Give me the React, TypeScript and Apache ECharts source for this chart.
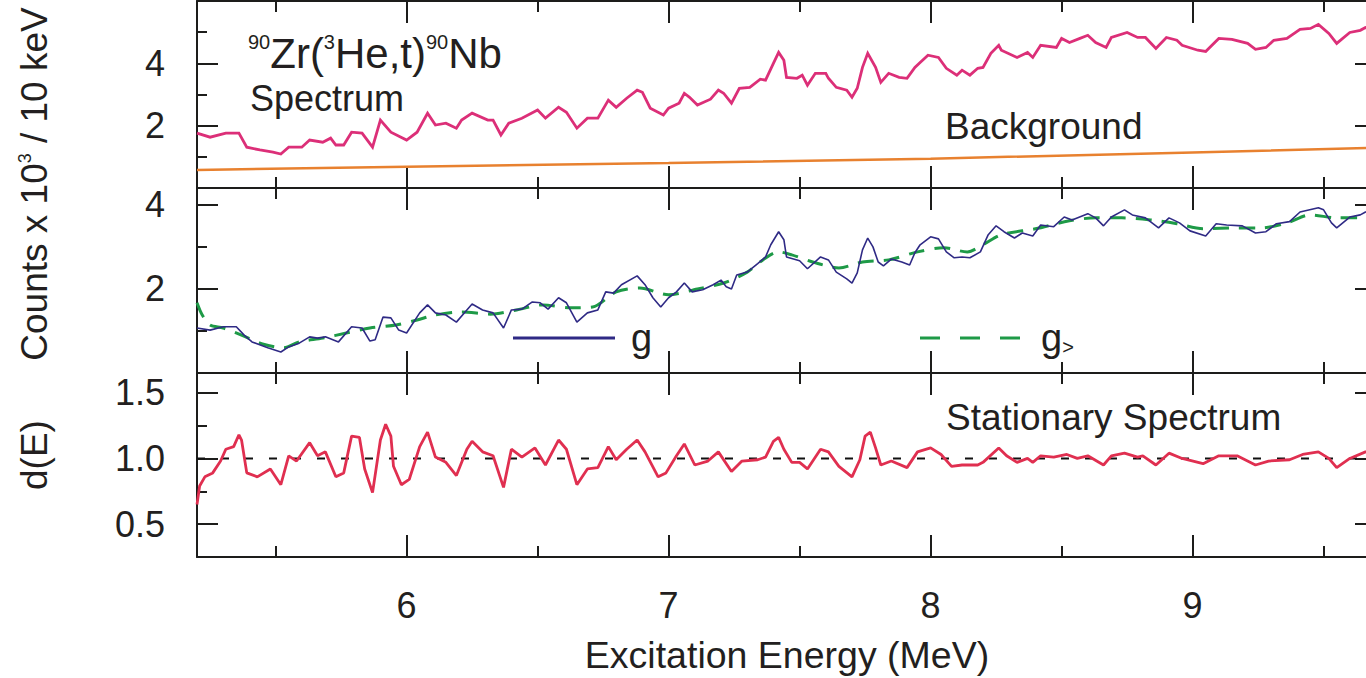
import React, { useEffect, useRef } from "react";
import * as echarts from "echarts";

// ---------- data ----------
const xMin = 5.2;
const xMax = 9.7;
const xMajorTicks = [6, 7, 8, 9];
const xMinorTicks = [5.5, 6.5, 7.5, 8.5, 9.5];

const spectrumRange = [0, 6];
const spectrumMajor = [2, 4];
const spectrumMinor = [1, 3, 5];
const gRange = [0, 4.4];
const gMajor = [2, 4];
const gMinor = [1, 3];
const dRange = [0.25, 1.65];
const dMajor = [0.5, 1.0, 1.5];
const dMinor = [0.75, 1.25];

// Excitation energy (MeV), counts x 10^3 / 10 keV
const spectrum: [number, number][] = [
  [5.2, 1.76], [5.25, 1.63], [5.31, 1.76], [5.36, 1.76], [5.39, 1.31], [5.44, 1.22], [5.49, 1.15], [5.52, 1.09],
  [5.55, 1.31], [5.6, 1.31], [5.63, 1.54], [5.68, 1.47], [5.71, 1.6], [5.73, 1.38], [5.76, 1.38], [5.79, 1.79],
  [5.83, 1.76], [5.87, 1.31], [5.9, 2.18], [5.94, 1.79], [6.0, 1.54], [6.04, 1.79], [6.08, 2.4], [6.11, 2.02],
  [6.15, 2.08], [6.19, 1.92], [6.21, 2.18], [6.25, 2.4], [6.31, 2.18], [6.33, 2.18], [6.36, 1.7], [6.39, 2.08],
  [6.44, 2.24], [6.5, 2.5], [6.53, 2.24], [6.58, 2.59], [6.61, 2.43], [6.65, 1.92], [6.69, 2.24], [6.73, 2.24],
  [6.77, 2.82], [6.8, 2.59], [6.84, 2.88], [6.88, 3.14], [6.9, 3.07], [6.93, 2.56], [6.98, 2.34], [7.0, 2.56],
  [7.04, 2.72], [7.06, 3.04], [7.08, 2.91], [7.11, 2.66], [7.16, 2.85], [7.19, 3.14], [7.21, 3.04], [7.24, 2.72],
  [7.27, 3.2], [7.31, 3.23], [7.35, 3.49], [7.37, 3.46], [7.4, 4.0], [7.42, 4.35], [7.44, 4.1], [7.45, 3.55],
  [7.49, 3.52], [7.51, 3.62], [7.53, 3.3], [7.56, 3.68], [7.6, 3.68], [7.61, 3.52], [7.64, 3.23], [7.68, 3.14],
  [7.7, 2.91], [7.72, 3.2], [7.74, 3.87], [7.76, 4.32], [7.79, 3.87], [7.81, 3.39], [7.84, 3.68], [7.88, 3.55],
  [7.91, 3.52], [7.94, 3.87], [7.96, 4.03], [7.99, 4.26], [8.03, 4.19], [8.06, 3.84], [8.1, 3.62], [8.12, 3.78],
  [8.15, 3.62], [8.18, 3.84], [8.2, 3.87], [8.23, 4.32], [8.26, 4.58], [8.27, 4.42], [8.33, 4.19], [8.37, 4.35],
  [8.39, 4.19], [8.42, 4.58], [8.48, 4.51], [8.5, 4.8], [8.53, 4.67], [8.57, 4.8], [8.6, 4.9], [8.63, 4.67],
  [8.67, 4.51], [8.69, 4.83], [8.75, 4.99], [8.79, 4.83], [8.82, 4.83], [8.86, 4.48], [8.9, 4.83], [8.94, 4.74],
  [8.96, 4.58], [9.02, 4.42], [9.05, 4.38], [9.1, 4.8], [9.15, 4.77], [9.21, 4.64], [9.24, 4.45], [9.28, 4.51],
  [9.31, 4.74], [9.36, 4.8], [9.41, 5.09], [9.45, 5.12], [9.48, 5.25], [9.52, 4.96], [9.55, 4.64], [9.6, 4.99],
  [9.64, 5.06], [9.66, 5.15], [9.7, 5.1],
];

const background: [number, number][] = [
  [5.2, 0.58], [6.0, 0.68], [7.0, 0.8], [8.0, 0.94], [9.0, 1.14], [9.7, 1.29],
];

const gSpectrum: [number, number][] = [
  [5.2, 1.07], [5.25, 1.02], [5.3, 1.1], [5.35, 1.1], [5.38, 0.9], [5.41, 0.74], [5.47, 0.6], [5.52, 0.5],
  [5.55, 0.62], [5.59, 0.71], [5.63, 0.86], [5.66, 0.83], [5.69, 0.86], [5.74, 0.74], [5.79, 1.1], [5.83, 1.07],
  [5.86, 0.76], [5.88, 0.79], [5.91, 1.33], [5.94, 1.31], [5.97, 1.02], [6.0, 0.95], [6.05, 1.43], [6.08, 1.62],
  [6.11, 1.43], [6.15, 1.38], [6.19, 1.21], [6.23, 1.5], [6.25, 1.64], [6.29, 1.5], [6.33, 1.43], [6.37, 1.07],
  [6.4, 1.5], [6.44, 1.52], [6.48, 1.69], [6.51, 1.67], [6.54, 1.52], [6.58, 1.79], [6.61, 1.67], [6.65, 1.21],
  [6.69, 1.43], [6.73, 1.5], [6.76, 1.93], [6.79, 1.9], [6.82, 2.1], [6.88, 2.31], [6.91, 2.1], [6.94, 1.79],
  [6.97, 1.57], [7.0, 1.79], [7.03, 1.93], [7.06, 2.14], [7.09, 1.93], [7.13, 1.98], [7.17, 2.1], [7.2, 2.21],
  [7.22, 2.05], [7.24, 2.0], [7.26, 2.33], [7.3, 2.4], [7.34, 2.6], [7.37, 2.76], [7.39, 3.05], [7.42, 3.36],
  [7.44, 3.17], [7.45, 2.76], [7.5, 2.67], [7.53, 2.48], [7.58, 2.76], [7.61, 2.69], [7.64, 2.4], [7.68, 2.24],
  [7.7, 2.14], [7.72, 2.38], [7.74, 2.93], [7.76, 3.21], [7.78, 3.0], [7.8, 2.64], [7.82, 2.55], [7.85, 2.71],
  [7.89, 2.64], [7.92, 2.57], [7.94, 2.86], [7.96, 3.05], [8.0, 3.24], [8.03, 3.19], [8.06, 2.88], [8.09, 2.74],
  [8.12, 2.76], [8.15, 2.74], [8.19, 2.88], [8.22, 3.29], [8.25, 3.5], [8.28, 3.36], [8.32, 3.21], [8.35, 3.33],
  [8.39, 3.26], [8.42, 3.52], [8.47, 3.48], [8.51, 3.71], [8.54, 3.64], [8.6, 3.79], [8.63, 3.69], [8.66, 3.5],
  [8.69, 3.71], [8.74, 3.88], [8.77, 3.76], [8.82, 3.69], [8.87, 3.45], [8.91, 3.69], [8.95, 3.57], [8.99, 3.38],
  [9.05, 3.26], [9.09, 3.55], [9.13, 3.52], [9.19, 3.5], [9.24, 3.33], [9.28, 3.36], [9.32, 3.55], [9.37, 3.6],
  [9.41, 3.83], [9.48, 3.93], [9.5, 3.88], [9.53, 3.57], [9.55, 3.45], [9.6, 3.71], [9.64, 3.76], [9.66, 3.83],
  [9.7, 3.85],
];

const gSmooth: [number, number][] = [
  [5.2, 1.67], [5.22, 1.38], [5.25, 1.14], [5.3, 1.07], [5.37, 0.9], [5.45, 0.69], [5.53, 0.6], [5.59, 0.74],
  [5.68, 0.83], [5.77, 0.95], [5.86, 1.07], [5.96, 1.14], [6.04, 1.26], [6.11, 1.38], [6.21, 1.45], [6.32, 1.4],
  [6.42, 1.5], [6.52, 1.62], [6.63, 1.55], [6.71, 1.57], [6.8, 1.93], [6.89, 2.02], [7.0, 1.86], [7.11, 2.0],
  [7.21, 2.14], [7.3, 2.4], [7.36, 2.69], [7.42, 2.88], [7.47, 2.81], [7.55, 2.64], [7.65, 2.5], [7.74, 2.64],
  [7.84, 2.69], [7.95, 2.88], [8.05, 2.98], [8.14, 2.88], [8.2, 3.05], [8.27, 3.29], [8.4, 3.43], [8.53, 3.62],
  [8.63, 3.69], [8.73, 3.69], [8.84, 3.64], [8.94, 3.55], [9.04, 3.43], [9.17, 3.45], [9.26, 3.45], [9.36, 3.57],
  [9.45, 3.76], [9.55, 3.69], [9.65, 3.69], [9.7, 3.7],
];

const stationary: [number, number][] = [
  [5.2, 0.65], [5.21, 0.79], [5.23, 0.86], [5.26, 0.89], [5.29, 0.98], [5.31, 1.07], [5.34, 1.09], [5.36, 1.18],
  [5.37, 1.14], [5.39, 0.89], [5.43, 0.86], [5.48, 0.92], [5.52, 0.8], [5.55, 1.02], [5.58, 0.98], [5.63, 1.12],
  [5.66, 1.02], [5.69, 1.05], [5.73, 0.86], [5.76, 0.89], [5.79, 1.17], [5.82, 1.16], [5.84, 0.92], [5.87, 0.74],
  [5.9, 1.14], [5.92, 1.26], [5.94, 1.17], [5.95, 0.94], [5.98, 0.8], [6.01, 0.84], [6.05, 1.09], [6.08, 1.2],
  [6.11, 1.01], [6.15, 0.97], [6.19, 0.87], [6.23, 1.07], [6.25, 1.13], [6.29, 1.05], [6.33, 1.02], [6.37, 0.78],
  [6.4, 1.07], [6.44, 1.01], [6.49, 1.08], [6.53, 0.95], [6.58, 1.14], [6.61, 1.07], [6.65, 0.8], [6.69, 0.92],
  [6.73, 0.93], [6.77, 1.09], [6.8, 0.99], [6.84, 1.07], [6.88, 1.14], [6.91, 1.05], [6.96, 0.86], [6.99, 0.89],
  [7.03, 1.02], [7.06, 1.11], [7.1, 0.95], [7.15, 0.98], [7.19, 1.05], [7.24, 0.9], [7.28, 0.98], [7.34, 0.99],
  [7.37, 1.01], [7.4, 1.13], [7.42, 1.16], [7.44, 1.07], [7.47, 0.97], [7.5, 0.97], [7.53, 0.92], [7.58, 1.07],
  [7.61, 1.05], [7.65, 0.94], [7.7, 0.86], [7.73, 0.99], [7.75, 1.17], [7.77, 1.2], [7.79, 1.08], [7.81, 0.95],
  [7.85, 0.98], [7.91, 0.93], [7.95, 1.05], [8.0, 1.08], [8.04, 1.03], [8.08, 0.94], [8.12, 0.95], [8.18, 0.95],
  [8.2, 0.97], [8.26, 1.08], [8.29, 1.02], [8.33, 0.97], [8.37, 1.0], [8.39, 0.97], [8.42, 1.02], [8.47, 1.01],
  [8.52, 1.03], [8.56, 1.0], [8.6, 1.02], [8.66, 0.95], [8.69, 1.02], [8.74, 1.04], [8.79, 1.01], [8.81, 1.02],
  [8.86, 0.95], [8.91, 1.04], [8.96, 1.0], [9.04, 0.96], [9.1, 1.02], [9.17, 1.02], [9.24, 0.95], [9.29, 0.98],
  [9.37, 0.99], [9.42, 1.03], [9.48, 1.05], [9.52, 1.0], [9.55, 0.93], [9.6, 1.0], [9.66, 1.05], [9.7, 1.06],
];

const unityLine: [number, number][] = [
  [5.2, 1.0], [9.7, 1.0],
];

// ---------- styling ----------
const FONT = "Liberation Sans, Arial, Helvetica, sans-serif";
const INK = "#231f20";
const AXIS = "#1d1d1b";
const PINK = "#dc2f78";
const ORANGE = "#e8812f";
const NAVY = "#2f2a85";
const GREEN = "#1e9a47";
const RED = "#e02f50";

const GRID_LEFT = 197;
const GRID_WIDTH = 1179;

function App() {
  const ref = useRef<HTMLDivElement>(null);

  useEffect(() => {
    if (!ref.current) return;
    const chart = echarts.init(ref.current, null, { renderer: "svg" });

    const grids = [
      { left: GRID_LEFT, width: GRID_WIDTH, top: 1, height: 187 },
      { left: GRID_LEFT, width: GRID_WIDTH, top: 188, height: 185 },
      { left: GRID_LEFT, width: GRID_WIDTH, top: 373, height: 184 },
    ];

    const tickStyle = { color: AXIS, width: 2 };
    const labelStyle = { fontSize: 36, fontFamily: FONT, color: INK };

    const xAxes: any[] = [];
    grids.forEach((_, gi) => {
      const base = {
        gridIndex: gi,
        type: "value",
        min: xMin,
        max: xMax,
        splitLine: { show: false },
      };
      xAxes.push({
        ...base,
        position: "bottom",
        axisLine: { show: true, onZero: false, lineStyle: tickStyle },
        axisTick: { show: true, inside: true, length: 22, customValues: xMajorTicks, lineStyle: tickStyle },
        axisLabel:
          gi === 2
            ? { show: true, customValues: xMajorTicks, margin: 30, ...labelStyle }
            : { show: false },
      });
      xAxes.push({
        ...base,
        position: "bottom",
        axisLine: { show: false, onZero: false },
        axisTick: { show: true, inside: true, length: 11, customValues: xMinorTicks, lineStyle: tickStyle },
        axisLabel: { show: false },
      });
      xAxes.push({
        ...base,
        position: "top",
        axisLine: { show: true, onZero: false, lineStyle: tickStyle },
        axisTick: { show: true, inside: true, length: 22, customValues: xMajorTicks, lineStyle: tickStyle },
        axisLabel: { show: false },
      });
      xAxes.push({
        ...base,
        position: "top",
        axisLine: { show: false, onZero: false },
        axisTick: { show: true, inside: true, length: 11, customValues: xMinorTicks, lineStyle: tickStyle },
        axisLabel: { show: false },
      });
    });

    const yDefs = [
      { range: spectrumRange, major: spectrumMajor, minor: spectrumMinor, fmt: (v: number) => String(v) },
      { range: gRange, major: gMajor, minor: gMinor, fmt: (v: number) => String(v) },
      { range: dRange, major: dMajor, minor: dMinor, fmt: (v: number) => v.toFixed(1) },
    ];
    const yAxes: any[] = [];
    yDefs.forEach((d, gi) => {
      const base = {
        gridIndex: gi,
        type: "value",
        min: d.range[0],
        max: d.range[1],
        splitLine: { show: false },
      };
      yAxes.push({
        ...base,
        position: "left",
        axisLine: { show: true, onZero: false, lineStyle: tickStyle },
        axisTick: { show: true, inside: true, length: 21, customValues: d.major, lineStyle: tickStyle },
        axisLabel: { show: true, customValues: d.major, margin: 32, formatter: d.fmt, ...labelStyle },
      });
      yAxes.push({
        ...base,
        position: "left",
        axisLine: { show: false, onZero: false },
        axisTick: { show: true, inside: true, length: 10, customValues: d.minor, lineStyle: tickStyle },
        axisLabel: { show: false },
      });
      yAxes.push({
        ...base,
        position: "right",
        axisLine: { show: true, onZero: false, lineStyle: tickStyle },
        axisTick: { show: true, inside: true, length: 21, customValues: d.major, lineStyle: tickStyle },
        axisLabel: { show: false },
      });
      yAxes.push({
        ...base,
        position: "right",
        axisLine: { show: false, onZero: false },
        axisTick: { show: true, inside: true, length: 10, customValues: d.minor, lineStyle: tickStyle },
        axisLabel: { show: false },
      });
    });

    const lineBase = {
      type: "line",
      showSymbol: false,
      symbol: "none",
      silent: true,
      clip: true,
    };

    const series: any[] = [
      { ...lineBase, name: "Background", xAxisIndex: 0, yAxisIndex: 0, data: background, lineStyle: { color: ORANGE, width: 2.5 } },
      { ...lineBase, name: "Spectrum", xAxisIndex: 0, yAxisIndex: 0, data: spectrum, lineStyle: { color: PINK, width: 2.8, join: "miter" } },
      { ...lineBase, name: "g>", xAxisIndex: 4, yAxisIndex: 4, data: gSmooth, smooth: 0.3, lineStyle: { color: GREEN, width: 3, type: [16, 10] } },
      { ...lineBase, name: "g", xAxisIndex: 4, yAxisIndex: 4, data: gSpectrum, lineStyle: { color: NAVY, width: 1.6 } },
      { ...lineBase, name: "unity", xAxisIndex: 8, yAxisIndex: 8, data: unityLine, lineStyle: { color: "#111", width: 2, type: [8, 16] } },
      { ...lineBase, name: "d(E)", xAxisIndex: 8, yAxisIndex: 8, data: stationary, lineStyle: { color: RED, width: 2.8 } },
    ];

    const graphic: any[] = [
      {
        type: "text",
        x: 248,
        y: 53,
        style: {
          text: "{s|90}{m|Zr(}{s|3}{m|He,t)}{s|90}{m|Nb}",
          fill: INK,
          fontFamily: FONT,
          align: "left",
          verticalAlign: "middle",
          rich: {
            m: { fontSize: 42, fontFamily: FONT, fill: INK },
            s: { fontSize: 20, fontFamily: FONT, fill: INK, verticalAlign: "top" },
          },
        },
      },
      {
        type: "text",
        x: 250,
        y: 98,
        style: { text: "Spectrum", fontSize: 36, fontFamily: FONT, fill: INK, align: "left", verticalAlign: "middle" },
      },
      {
        type: "text",
        x: 945,
        y: 126,
        style: { text: "Background", fontSize: 37, fontFamily: FONT, fill: INK, align: "left", verticalAlign: "middle" },
      },
      {
        type: "line",
        shape: { x1: 513, y1: 338, x2: 615, y2: 338 },
        style: { stroke: NAVY, lineWidth: 3 },
      },
      {
        type: "text",
        x: 631,
        y: 338,
        style: { text: "g", fontSize: 38, fontFamily: FONT, fill: INK, align: "left", verticalAlign: "middle" },
      },
      {
        type: "line",
        shape: { x1: 920, y1: 338, x2: 1020, y2: 338 },
        style: { stroke: GREEN, lineWidth: 3, lineDash: [20, 20] },
      },
      {
        type: "text",
        x: 1041,
        y: 338,
        style: {
          text: "{a|g}{b|>}",
          fill: INK,
          fontFamily: FONT,
          align: "left",
          verticalAlign: "middle",
          rich: {
            a: { fontSize: 38, fontFamily: FONT, fill: INK },
            b: { fontSize: 20, fontFamily: FONT, fill: INK, verticalAlign: "bottom" },
          },
        },
      },
      {
        type: "text",
        x: 946,
        y: 417,
        style: { text: "Stationary Spectrum", fontSize: 37, fontFamily: FONT, fill: INK, align: "left", verticalAlign: "middle" },
      },
      {
        type: "text",
        x: 787,
        y: 655,
        style: { text: "Excitation Energy (MeV)", fontSize: 37.5, fontFamily: FONT, fill: INK, align: "center", verticalAlign: "middle" },
      },
      {
        type: "text",
        x: 34,
        y: 184,
        rotation: Math.PI / 2,
        style: {
          text: "{m|Counts x 10}{s|3}{m| / 10 keV}",
          fill: INK,
          fontFamily: FONT,
          align: "center",
          verticalAlign: "middle",
          rich: {
            m: { fontSize: 37, fontFamily: FONT, fill: INK },
            s: { fontSize: 18, fontFamily: FONT, fill: INK, verticalAlign: "top" },
          },
        },
      },
      {
        type: "text",
        x: 34,
        y: 455,
        rotation: Math.PI / 2,
        style: { text: "d(E)", fontSize: 37, fontFamily: FONT, fill: INK, align: "center", verticalAlign: "middle" },
      },
    ];

    chart.setOption({
      animation: false,
      backgroundColor: "#ffffff",
      grid: grids,
      xAxis: xAxes,
      yAxis: yAxes,
      series,
      graphic,
    });

    return () => {
      chart.dispose();
    };
  }, []);

  return (
    <div
      ref={ref}
      style={{ position: "fixed", left: 0, top: 0, width: 1400, height: 678, background: "#fff" }}
    />
  );
}

export default App;
